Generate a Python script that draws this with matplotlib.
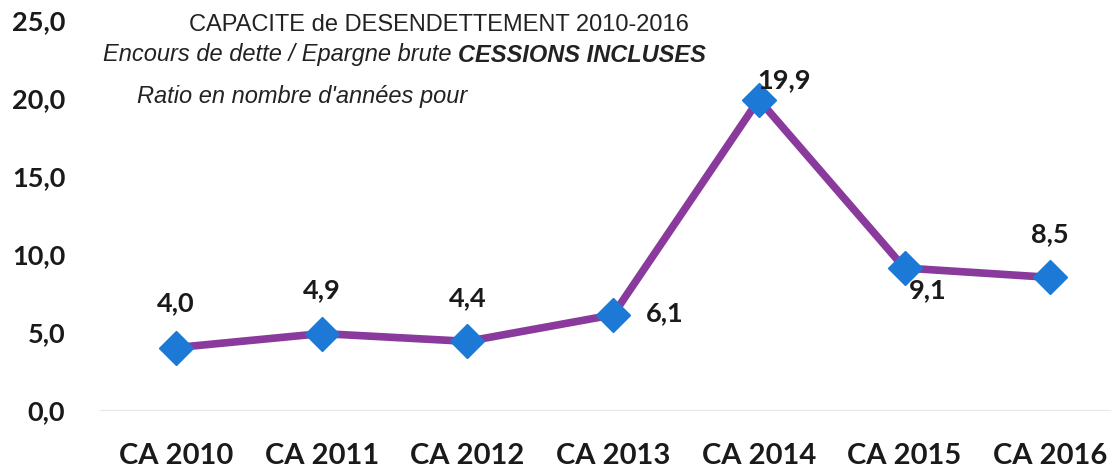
import matplotlib.pyplot as plt
import numpy as np

# data
categories = ["CA 2010", "CA 2011", "CA 2012", "CA 2013", "CA 2014", "CA 2015", "CA 2016"]
ratios = [4.0, 4.9, 4.4, 6.1, 19.9, 9.1, 8.5]
yticks = [0, 5, 10, 15, 20, 25]

# label offsets (points) for each data label
label_offsets = [(0, 32), (0, 31), (0, 31), (37, 1.5), (18, 14), (17, -16), (0, 31)]

fig = plt.figure(figsize=(11.13, 4.72), dpi=100)
W, H = 1113, 472
x0, x1 = 100, 1110
ax = fig.add_axes([x0 / W, (H - 410) / H, (x1 - x0) / W, (410 - 20) / H])

x = np.arange(len(categories))
ax.plot(x, ratios, color="#8A3A9C", lw=5.5, solid_capstyle="round", zorder=2)
ax.plot(x, ratios, ls="none", marker="D", ms=17, color="#1C7AD6", zorder=3)

step = 145.7
ax.set_xlim((x0 - 176) / step, (x1 - 176) / step)
ax.set_ylim(0, 25)

bold = dict(family="Lato", weight="bold", color="#1a1a1a")
for xi, v, off in zip(x, ratios, label_offsets):
    ax.annotate(f"{v:.1f}".replace(".", ","), (xi, v), xytext=off,
                textcoords="offset points", ha="center", va="center",
                fontsize=19.5, **bold)

ax.set_xticks(x)
ax.set_xticklabels(categories, fontsize=21, **bold)
ax.set_yticks(yticks)
ax.set_yticklabels([f"{t:.1f}".replace(".", ",") for t in yticks], fontsize=19.5, **bold)
ax.tick_params(length=0)
ax.tick_params(axis="x", pad=24)
ax.tick_params(axis="y", pad=25)
for s in ["top", "right", "left"]:
    ax.spines[s].set_visible(False)
ax.spines["bottom"].set_color("#e8e8e8")

# title block
fs = 17
fig.text(439 / W, 1 - 25 / H, "CAPACITE de DESENDETTEMENT 2010-2016",
         ha="center", va="center", fontsize=fs, family="Liberation Sans", color="#222222")
t1 = fig.text(103 / W, 1 - 55 / H, "Encours de dette / Epargne brute ",
              ha="left", va="center", fontsize=fs, family="Liberation Sans",
              style="italic", color="#222222")
fig.canvas.draw()
bb = t1.get_window_extent()
fig.text(bb.x1 / W, 1 - 55 / H, "CESSIONS INCLUSES", ha="left", va="center",
         fontsize=fs, family="Liberation Sans", style="italic", weight="bold",
         color="#222222")
fig.text(137 / W, 1 - 96 / H, "Ratio en nombre d'années pour",
         ha="left", va="center", fontsize=fs, family="Liberation Sans",
         style="italic", color="#222222")

fig.savefig("out.png", dpi=100)
